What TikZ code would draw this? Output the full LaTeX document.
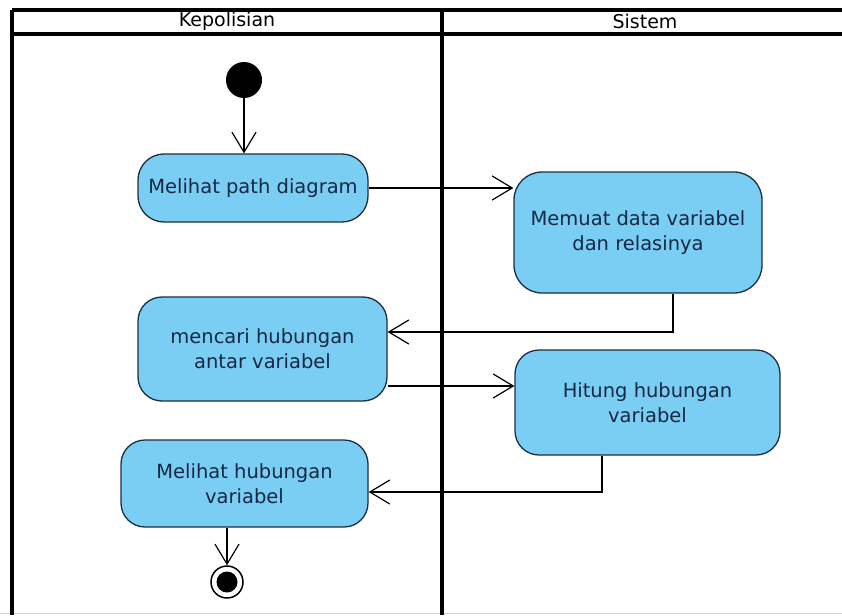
\documentclass[tikz,border=0pt]{standalone}
\usepackage{fontspec}
\setmainfont{DejaVu Sans}
\usetikzlibrary{arrows.meta}
\definecolor{actfill}{RGB}{122,205,243}
\definecolor{actdraw}{RGB}{28,48,62}
\definecolor{acttext}{RGB}{22,40,68}
\begin{document}
\begin{tikzpicture}[x=1pt,y=-1pt,
  lane/.style={line width=3.2pt,black},
  action/.style={draw=actdraw,line width=1.3pt,fill=actfill,rounded corners=24pt,
    text=acttext,align=center,inner sep=0pt,
    font=\fontsize{19.5}{25}\selectfont},
  flow/.style={line width=1.2pt,black,-{Straight Barb[length=20pt,width=24pt,line width=1.2pt]}},
  head/.style={font=\fontsize{19}{22}\selectfont,text=black}]
\useasboundingbox (0,0) rectangle (842,615);
\fill[white] (0,0) rectangle (842,615);

% swimlane frame
\draw[gray!35,line width=1pt] (0,613) -- (842,613);
\draw[lane] (12,10) -- (842,10);
\draw[lane] (12,34) -- (842,34);
\draw[lane] (12,10) -- (12,615);
\draw[lane] (442,10) -- (442,615);
\node[head] (laneA) at (227,21.5) {Kepolisian};
\node[head] (laneB) at (645,21.5) {Sistem};

% initial and final nodes
\node[circle,fill=black,minimum size=36pt,inner sep=0pt] (start) at (244,80) {};
\node[circle,draw=black,line width=1.5pt,fill=white,minimum size=32pt,inner sep=0pt] (end) at (227,582) {};
\node[circle,fill=black,minimum size=21pt,inner sep=0pt] (endin) at (227,582) {};

% actions
\node[action,minimum width=230pt,minimum height=68pt,rounded corners=26pt] (a1) at (253,188) {Melihat path diagram};
\node[action,minimum width=248pt,minimum height=121pt,rounded corners=28pt] (a2) at (638,232.5) {Memuat data variabel\\dan relasinya};
\node[action,minimum width=249pt,minimum height=104pt] (a3) at (262.5,349) {mencari hubungan\\antar variabel};
\node[action,minimum width=265pt,minimum height=105pt] (a4) at (647.5,402.5) {Hitung hubungan\\variabel};
\node[action,minimum width=247pt,minimum height=87pt] (a5) at (244.5,483.5) {Melihat hubungan\\variabel};

% control flow
\draw[flow] (start) -- (start |- a1.north);
\draw[flow] (a1.east) -- (a1.east -| a2.west);
\draw[flow] ([xshift=35pt]a2.south) |- ([yshift=17pt]a3.east);
\draw[flow] ([yshift=-37pt]a3.east) -- ([yshift=-37pt]a3.east -| a4.west);
\draw[flow] ([xshift=-45.5pt]a4.south) |- ([yshift=-8.5pt]a5.east);
\draw[flow] (end.north |- a5.south) -- (end.north);
\end{tikzpicture}
\end{document}
